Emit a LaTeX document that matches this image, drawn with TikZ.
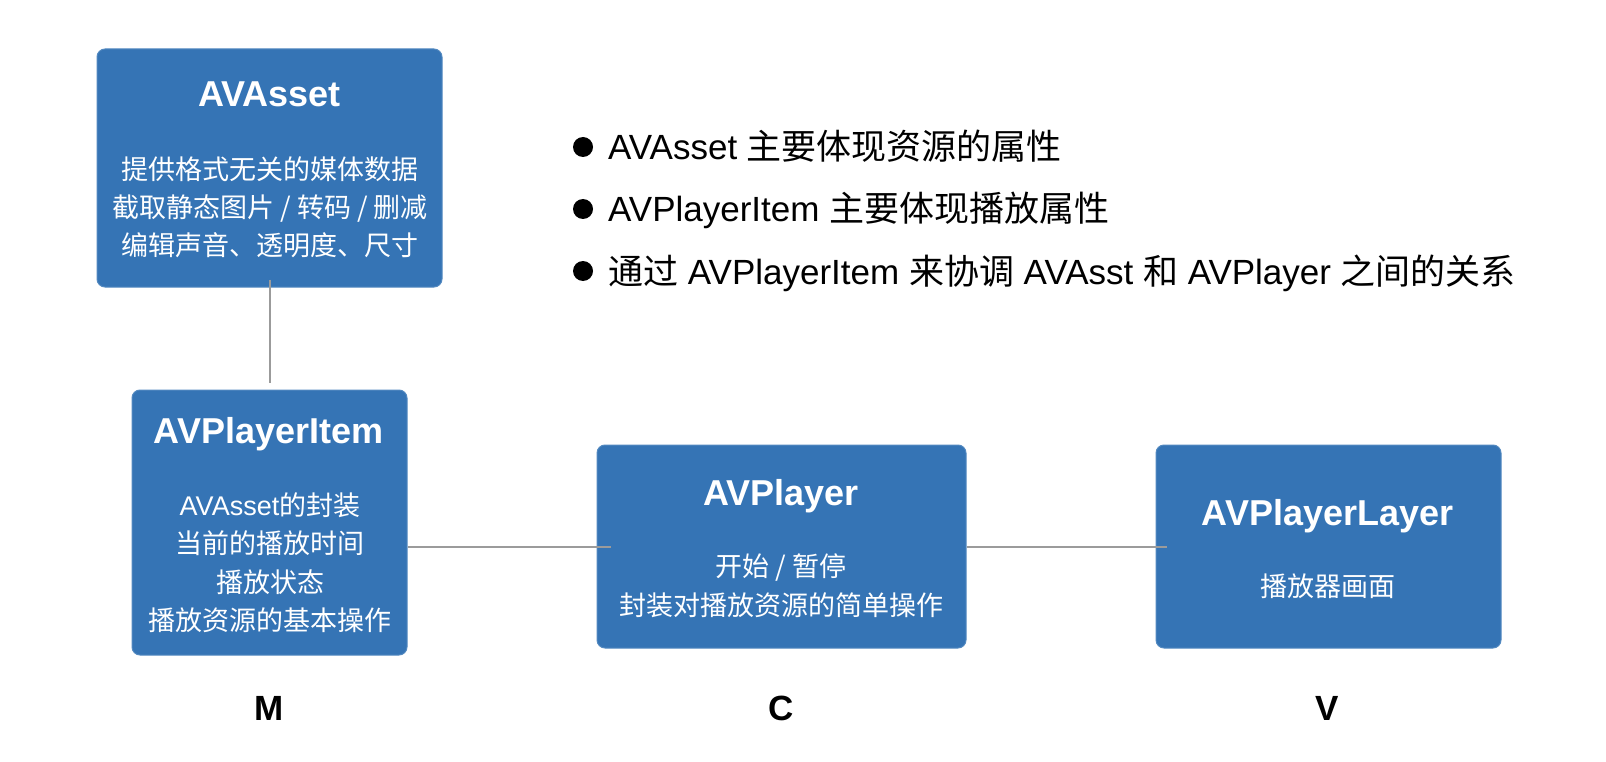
\documentclass[tikz,border=0pt]{standalone}
\usepackage{fontspec}
\setmainfont{Noto Sans CJK SC}
\newfontfamily\lat{Liberation Sans}
\definecolor{boxblue}{RGB}{53,116,181}
\definecolor{conngray}{RGB}{155,155,155}
\tikzset{
  box/.style={fill=boxblue, draw=boxblue!85!white, line width=1pt, rounded corners=8pt, inner sep=0pt},
  ttl/.style={font=\lat\bfseries\fontsize{36}{36}\selectfont, text=white, anchor=base, inner sep=0pt},
  bodytxt/.style={font=\fontsize{27}{27}\selectfont, text=white, anchor=base, inner sep=0pt},
  conn/.style={draw=conngray, line width=2pt},
  bul/.style={font=\fontsize{35}{35}\selectfont, text=black, anchor=base west, inner sep=0pt},
  dot/.style={circle, fill=black, minimum size=20pt, inner sep=0pt},
  mvc/.style={font=\lat\bfseries\fontsize{35}{35}\selectfont, text=black, anchor=base, inner sep=0pt}
}
\begin{document}
\begin{tikzpicture}[x=1pt,y=-1pt]
\useasboundingbox (0,0) rectangle (1606,762);
% boxes
\node[box, minimum width=345pt, minimum height=238pt] (asset) at (269.5,168) {};
\node[box, minimum width=275pt, minimum height=265pt] (item) at (269.5,522.5) {};
\node[box, minimum width=369pt, minimum height=203pt] (player) at (781.5,546.5) {};
\node[box, minimum width=345pt, minimum height=203pt] (layer) at (1328.5,546.5) {};
% connectors
\draw[conn, shorten <=-8pt, shorten >=7pt] (asset.south) -- (item.north);
\draw[conn, shorten >=-14pt] (player.west -| item.east) -- (player.west);
\draw[conn, shorten >=-11pt] (player.east) -- (layer.west);
% AVAsset
\node[ttl] (assetT) at (269.5,107) {AVAsset};
\node[bodytxt] (assetB1) at (270,180) {提供格式无关的媒体数据};
\node[bodytxt] (assetB2) at (270,217.5) {截取静态图片 / 转码 / 删减};
\node[bodytxt] (assetB3) at (270,255) {编辑声音、透明度、尺寸};
% AVPlayerItem
\node[ttl] (itemT) at (268.5,443) {AVPlayerItem};
\node[bodytxt] (itemB1) at (270,515) {{\lat AVAsset}的封装};
\node[bodytxt] (itemB2) at (270,553) {当前的播放时间};
\node[bodytxt] (itemB3) at (270,592) {播放状态};
\node[bodytxt] (itemB4) at (270,630) {播放资源的基本操作};
% AVPlayer
\node[ttl] (playerT) at (781,505) {AVPlayer};
\node[bodytxt] (playerB1) at (781,576) {开始 / 暂停};
\node[bodytxt] (playerB2) at (781,615) {封装对播放资源的简单操作};
% AVPlayerLayer
\node[ttl] (layerT) at (1327.5,525) {AVPlayerLayer};
\node[bodytxt] (layerB1) at (1328,596) {播放器画面};
% bullets
\node[dot] (d1) at (583,147) {};
\node[dot] (d2) at (583,209) {};
\node[dot] (d3) at (583,271) {};
\node[bul] (l1) at (608,160) {{\lat AVAsset }主要体现资源的属性};
\node[bul] (l2) at (608,222) {{\lat AVPlayerItem }主要体现播放属性};
\node[bul] (l3) at (608,284) {通过{\lat\ AVPlayerItem }来协调{\lat\ AVAsst }和{\lat\ AVPlayer }之间的关系};
% M C V
\node[mvc] (m) at (269,720) {M};
\node[mvc] (c) at (781,720) {C};
\node[mvc] (v) at (1327,720) {V};
\end{tikzpicture}
\end{document}
